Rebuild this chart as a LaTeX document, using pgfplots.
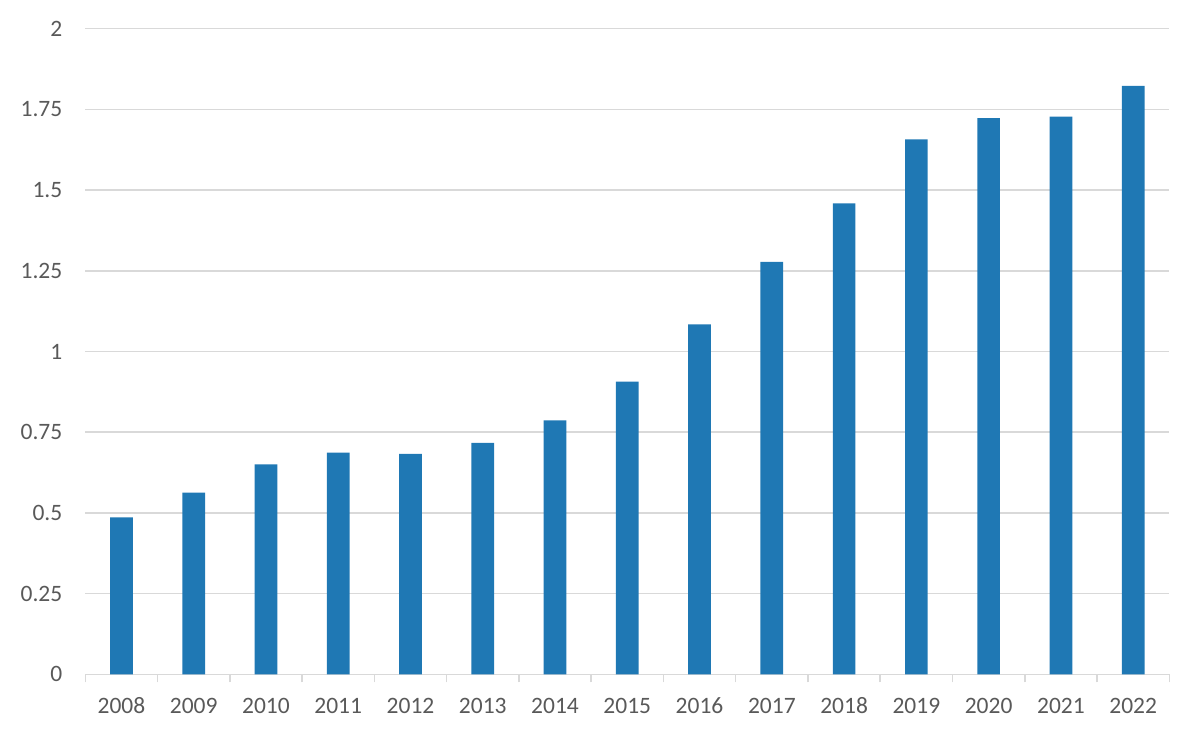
\documentclass[border=0pt]{standalone}
\usepackage{fontspec}
\setmainfont{Carlito}
\usepackage{pgfplots}
\pgfplotsset{compat=1.18}
\definecolor{barblue}{RGB}{31,120,180}
\definecolor{gridgray}{RGB}{217,217,217}
\definecolor{labelgray}{RGB}{89,89,89}
\begin{document}
\begin{tikzpicture}
\useasboundingbox (-42.65pt,-30.35pt) rectangle (557.35pt,337.15pt);
\begin{axis}[
  at={(0pt,0pt)}, anchor=south west,
  scale only axis,
  width=542pt, height=322.8pt,
  xmin=-0.5, xmax=14.5,
  ymin=0, ymax=2,
  axis x line*=bottom,
  x axis line style={-, draw=gridgray, line width=0.75pt},
  y axis line style={draw=none},
  xtick={0,...,14},
  xticklabels={2008,2009,2010,2011,2012,2013,2014,2015,2016,2017,2018,2019,2020,2021,2022},
  major tick length=0pt,
  minor xtick={-0.5,0.5,...,14.5},
  minor tick length=4pt,
  tick align=outside,
  minor x tick style={draw=gridgray, line width=0.75pt},
  ytick style={draw=none},
  ytick={0,0.25,...,2},
  yticklabels={0,0.25,0.5,0.75,1,1.25,1.5,1.75,2},
  ytick pos=left,
  ymajorgrids,
  grid style={draw=gridgray, line width=0.75pt},
  tick label style={font=\fontsize{11.75}{14}\selectfont, text=labelgray, inner sep=0pt},
  yticklabel style={anchor=base east, xshift=-11.3pt, yshift=-3.75pt},
  xticklabel style={anchor=base, yshift=-19.5pt},
  /pgf/number format/assume math mode=true,
  ybar, bar width=0.314,
  clip=false,
]
\addplot[fill=barblue, draw=none] coordinates {
(0,0.486) (1,0.563) (2,0.650) (3,0.687) (4,0.683) (5,0.717) (6,0.787)
(7,0.907) (8,1.084) (9,1.278) (10,1.459) (11,1.657) (12,1.723) (13,1.728) (14,1.823)
};
\end{axis}
\end{tikzpicture}
\end{document}
